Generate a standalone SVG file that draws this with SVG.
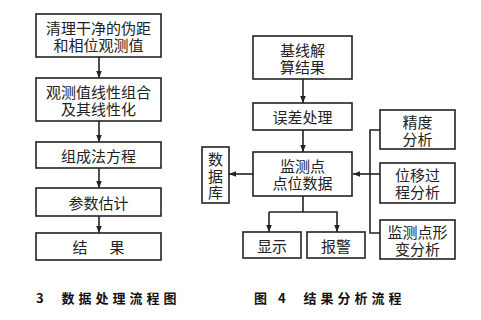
<svg xmlns="http://www.w3.org/2000/svg" width="481" height="320" viewBox="0 0 481 320">
<style>
.b{fill:#fff;stroke:#222;stroke-width:1.6}
.l{fill:none;stroke:#222;stroke-width:1.6}
.t{font-family:"Noto Sans CJK SC","Liberation Sans",sans-serif;font-size:15px;fill:#222;text-anchor:middle;dominant-baseline:central}
.c{font-family:"Noto Sans CJK SC","Liberation Sans",sans-serif;font-size:13px;fill:#111;font-weight:bold;letter-spacing:4px;dominant-baseline:central}
</style>
<defs>
<marker id="a" viewBox="0 0 10 10" refX="10" refY="5" markerWidth="7" markerHeight="7" markerUnits="userSpaceOnUse" orient="auto"><path d="M0,1 L10,5 L0,9 Z" fill="#222"/></marker>
</defs>
<g id="connectors">
<line class="l" x1="99" y1="57" x2="99" y2="78" marker-end="url(#a)"/>
<line class="l" x1="99" y1="121" x2="99" y2="142" marker-end="url(#a)"/>
<line class="l" x1="99" y1="168" x2="99" y2="188" marker-end="url(#a)"/>
<line class="l" x1="99" y1="216" x2="99" y2="233" marker-end="url(#a)"/>
<line class="l" x1="303" y1="79" x2="303" y2="103" marker-end="url(#a)"/>
<line class="l" x1="303" y1="130" x2="303" y2="152" marker-end="url(#a)"/>
<line class="l" x1="253" y1="174" x2="229" y2="174" marker-end="url(#a)"/>
<polyline class="l" points="303,196 303,212"/>
<polyline class="l" points="269,212 337,212 337,232" marker-end="url(#a)"/>
<line class="l" x1="269" y1="212" x2="269" y2="232" marker-end="url(#a)"/>
<polyline class="l" points="380,130 370,130 370,233 380,233"/>
<line class="l" x1="380" y1="174" x2="353" y2="174" marker-end="url(#a)"/>
</g>
<g id="n1"><rect class="b" x="36" y="14" width="125" height="43"/><text class="t" x="98.5" y="27.5">清理干净的伪距</text><text class="t" x="98.5" y="44.5">和相位观测值</text></g>
<g id="n2"><rect class="b" x="36" y="78" width="125" height="43"/><text class="t" x="98.5" y="91">观测值线性组合</text><text class="t" x="98.5" y="108">及其线性化</text></g>
<g id="n3"><rect class="b" x="36" y="142" width="125" height="26"/><text class="t" x="98.5" y="155">组成法方程</text></g>
<g id="n4"><rect class="b" x="36" y="188" width="125" height="28"/><text class="t" x="98.5" y="202">参数估计</text></g>
<g id="n5"><rect class="b" x="36" y="233" width="125" height="27"/><text class="t" x="80" y="246.5">结</text><text class="t" x="117" y="246.5">果</text></g>
<g id="m1"><rect class="b" x="253" y="36" width="99" height="43"/><text class="t" x="302.5" y="49">基线解</text><text class="t" x="302.5" y="66">算结果</text></g>
<g id="m2"><rect class="b" x="253" y="103" width="99" height="27"/><text class="t" x="302.5" y="116.5">误差处理</text></g>
<g id="m3"><rect class="b" x="253" y="152" width="99" height="44"/><text class="t" x="302.5" y="165.5">监测点</text><text class="t" x="302.5" y="182.5">点位数据</text></g>
<g id="db"><rect class="b" x="202" y="147" width="27" height="56"/><text class="t" x="215.5" y="158.5">数</text><text class="t" x="215.5" y="175">据</text><text class="t" x="215.5" y="191.5">库</text></g>
<g id="d1"><rect class="b" x="243" y="232" width="58" height="26"/><text class="t" x="272" y="245">显示</text></g>
<g id="d2"><rect class="b" x="307" y="232" width="58" height="26"/><text class="t" x="336" y="245">报警</text></g>
<g id="r1"><rect class="b" x="380" y="110" width="75" height="39"/><text class="t" x="417.5" y="121">精度</text><text class="t" x="417.5" y="138">分析</text></g>
<g id="r2"><rect class="b" x="380" y="163" width="75" height="40"/><text class="t" x="417.5" y="174.5">位移过</text><text class="t" x="417.5" y="191.5">程分析</text></g>
<g id="r3"><rect class="b" x="380" y="220" width="75" height="39"/><text class="t" x="417.5" y="231">监测点形</text><text class="t" x="417.5" y="248">变分析</text></g>
<text class="c" x="36" y="297" xml:space="preserve">3  数据处理流程图</text>
<text class="c" x="254" y="297" xml:space="preserve">图 4  结果分析流程</text>
</svg>
